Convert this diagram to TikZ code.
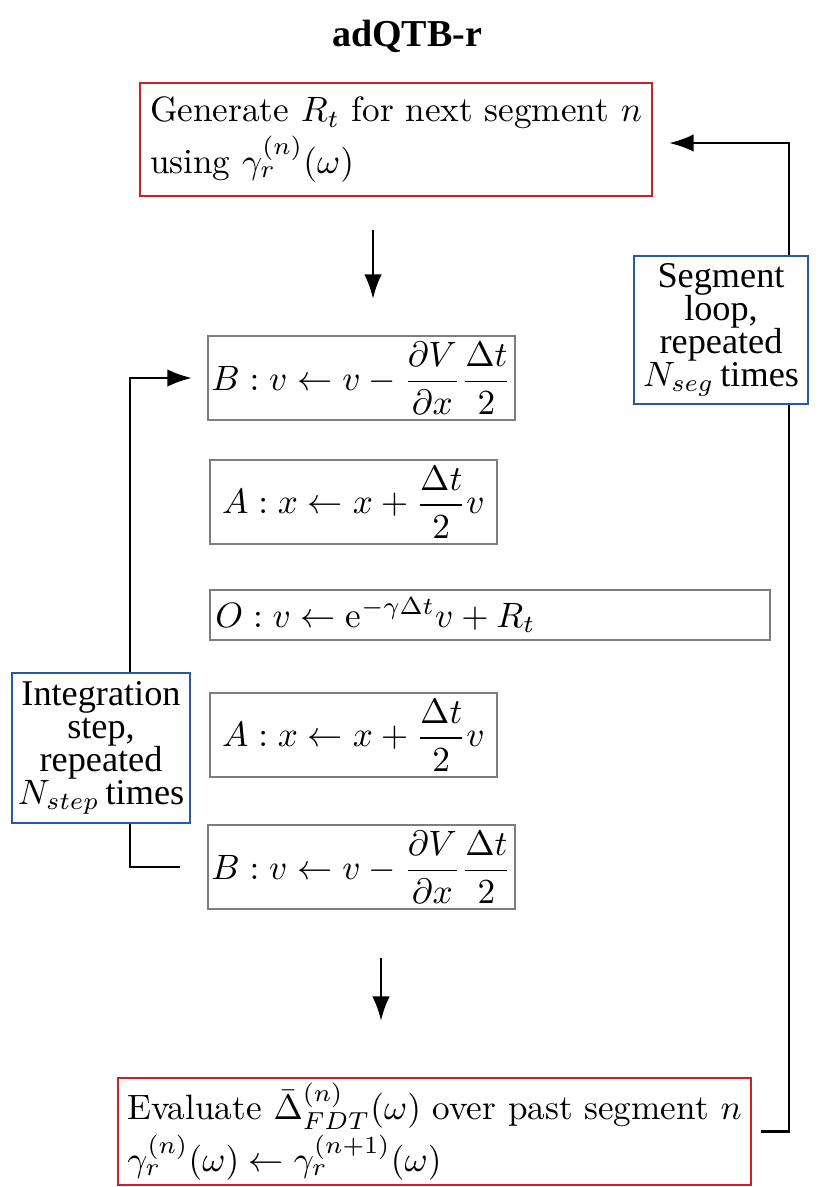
\documentclass[tikz,border=0pt]{standalone}
\usepackage{amsmath}
\usepackage{fontspec}
\usetikzlibrary{arrows.meta}
\newfontfamily\pala{Liberation Serif}
\definecolor{boxred}{RGB}{204,32,40}
\definecolor{boxblue}{RGB}{40,88,168}
\definecolor{boxgray}{RGB}{125,125,125}
\begin{document}
\begin{tikzpicture}[x=0.2841pt,y=-0.2841pt,
  redbox/.style={draw=boxred,line width=0.65pt,rectangle,inner xsep=2.6pt,inner ysep=1pt,align=left},
  graybox/.style={draw=boxgray,line width=0.45pt,rectangle,inner xsep=1pt,inner ysep=0pt},
  bluebox/.style={draw=boxblue,line width=0.65pt,fill=white,rectangle,align=center,inner sep=0pt,font=\pala\fontsize{10.3}{9.4}\selectfont},
  arr/.style={line width=0.75pt,-{Latex[length=7pt,width=5pt]}},
  conn/.style={line width=0.75pt}]
\useasboundingbox (0,0) rectangle (819,1187);

\node[font=\pala\bfseries\fontsize{10.8}{12}\selectfont] (title) at (407,36) {adQTB-r};

\node[redbox,minimum width=145.5pt,minimum height=32.1pt] (gen) at (396,139.5)
  {Generate $R_t$ for next segment $n$\\[1pt] using $\gamma_r^{(n)}(\omega)$};

\node[graybox,minimum width=86.1pt,minimum height=23.9pt] (b1) at (361.5,378)
  {$B: v \leftarrow v - \dfrac{\partial V}{\partial x}\dfrac{\Delta t}{2}$};
\node[graybox,minimum width=81.5pt,minimum height=23.9pt] (a1) at (353.5,502)
  {$A: x \leftarrow x + \dfrac{\Delta t}{2}v$};
\node[graybox,minimum width=159.1pt,minimum height=14.2pt,text width=156pt,align=left,inner xsep=1.5pt] (o) at (490,615)
  {$O: v \leftarrow \mathrm{e}^{-\gamma\Delta t} v + R_t$};
\node[graybox,minimum width=81.5pt,minimum height=23.9pt] (a2) at (353.5,735)
  {$A: x \leftarrow x + \dfrac{\Delta t}{2}v$};
\node[graybox,minimum width=86.1pt,minimum height=23.9pt] (b2) at (361.5,867)
  {$B: v \leftarrow v - \dfrac{\partial V}{\partial x}\dfrac{\Delta t}{2}$};

\node[redbox,minimum width=178.1pt,minimum height=30.4pt,inner ysep=0pt] (ev) at (434.5,1131.5)
  {Evaluate $\bar{\Delta}^{(n)}_{FDT}(\omega)$ over past segment $n$\\[0.5pt]
   $\gamma_r^{(n)}(\omega) \leftarrow \gamma_r^{(n+1)}(\omega)$};

% straight arrows
\coordinate (d1s) at (373,230);
\coordinate (d1e) at (373,299);
\coordinate (d2s) at (381,958);
\coordinate (d2e) at (381,1021);
\draw[arr] (d1s) -- (d1e);
\draw[arr] (d2s) -- (d2e);

% integration loop
\draw[arr,shorten <=7.7pt,shorten >=4.3pt] (b2.west) -- ++(-77,0) |- (b1.west);
% segment loop
\draw[arr,shorten <=2.6pt,shorten >=4.5pt] (ev.east) -- ++(37,0) |- ([yshift=-1pt]gen.east);

% labels
\node[bluebox,minimum width=50.6pt,minimum height=42.6pt] (intl) at (101,748)
  {Integration\\step,\\repeated\\$N_{step}$\,times};
\node[bluebox,minimum width=49.4pt,minimum height=42pt] (segl) at (721,330)
  {Segment\\loop,\\repeated\\$N_{seg}$\,times};
\end{tikzpicture}
\end{document}
